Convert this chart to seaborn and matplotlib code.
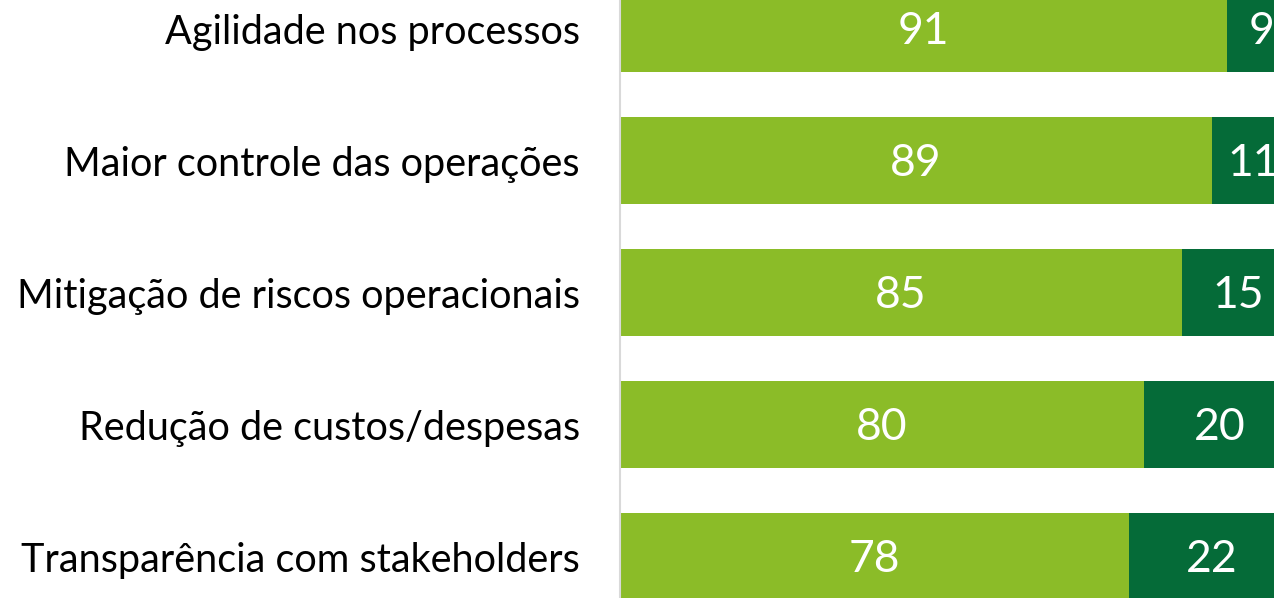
import matplotlib
matplotlib.use("Agg")
import matplotlib.pyplot as plt
import seaborn as sns
import pandas as pd

categories = [
    "Agilidade nos processos",
    "Maior controle das operações",
    "Mitigação de riscos operacionais",
    "Redução de custos/despesas",
    "Transparência com stakeholders",
]
sim_values = [91, 89, 85, 80, 78]
nao_values = [9, 11, 15, 20, 22]

LIGHT = "#8bbc28"
DARK = "#056b38"

sns.set_theme(style="white")
plt.rcParams["font.family"] = ["Lato", "DejaVu Sans"]

df = pd.DataFrame({
    "categoria": categories,
    "sim": sim_values,
    "nao": nao_values,
})
df["total"] = df["sim"] + df["nao"]

W, H = 1274, 598
fig = plt.figure(figsize=(W / 100, H / 100), dpi=100)

x_min, x_max = 10.5, 100
left_px, right_px = 620, 1295
ax = fig.add_axes([left_px / W, 0, (right_px - left_px) / W, 1])

sns.barplot(data=df, y="categoria", x="total", color=DARK, orient="h",
            width=0.66, saturation=1, linewidth=0, ax=ax)
sns.barplot(data=df, y="categoria", x="sim", color=LIGHT, orient="h",
            width=0.66, saturation=1, linewidth=0, ax=ax)

ax.set_xlim(x_min, x_max)
ax.set_ylim(4.314, -0.216)

for i, (s, n) in enumerate(zip(df["sim"], df["nao"])):
    ax.text((x_min + s) / 2, i + 0.02, f"{s}", ha="center", va="center",
            color="white", fontsize=32, clip_on=False)
    ax.text(s + n / 2, i + 0.02, f"{n}", ha="center", va="center",
            color="white", fontsize=32, clip_on=False)

ax.set_xlabel("")
ax.set_ylabel("")
ax.set_xticks([])
ax.tick_params(axis="y", length=0, pad=29, labelsize=28.5, labelcolor="black")
for side in ["top", "right", "bottom"]:
    ax.spines[side].set_visible(False)
ax.spines["left"].set_color("#d9d9d9")
ax.spines["left"].set_linewidth(1.5)
ax.set_facecolor("none")

fig.savefig("out.png", dpi=100)
